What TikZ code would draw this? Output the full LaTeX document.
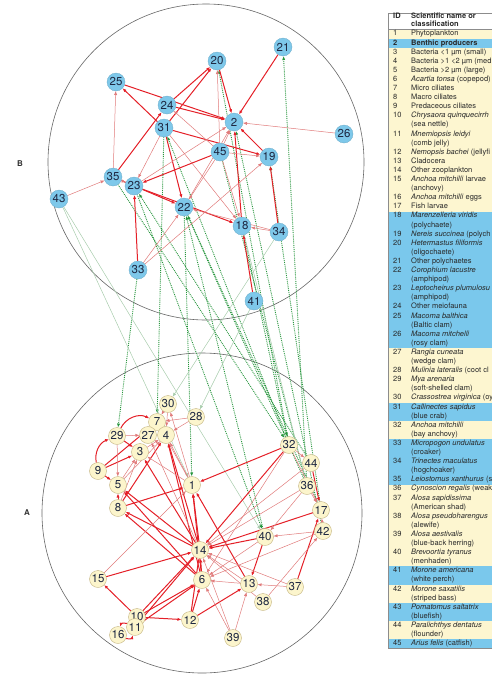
\documentclass[tikz,border=0pt]{standalone}
\usepackage{fontspec}
\setmainfont{TeX Gyre Heros}
\usepackage{xcolor}
\usepackage{tikz}
\usepackage{tkz-graph}
\usetikzlibrary{arrows,arrows.meta,shapes}

\definecolor{nodeblue}{RGB}{126,200,234}
\definecolor{nodecream}{RGB}{252,245,204}
\definecolor{nodeedge}{RGB}{196,180,130}
\definecolor{numink}{RGB}{30,40,66}
\definecolor{webred}{RGB}{228,32,40}
\definecolor{palered}{RGB}{224,122,122}
\definecolor{linkgreen}{RGB}{40,150,62}
\definecolor{palegreen}{RGB}{168,204,172}
\definecolor{rowblue}{RGB}{122,200,236}
\definecolor{rowcream}{RGB}{253,246,208}
\definecolor{tabink}{RGB}{40,40,40}

\pgfdeclarelayer{background}
\pgfsetlayers{background,main}

\begin{document}
\begin{tikzpicture}[x=1pt,y=-1pt,
    bnode/.style={circle,fill=nodeblue,draw=nodeblue!85!black,line width=0.3pt,
      minimum size=18pt,inner sep=0pt,text=numink,font=\fontsize{11.5}{11.5}\selectfont},
    anode/.style={circle,fill=nodecream,draw=nodeedge,line width=0.4pt,
      minimum size=17pt,inner sep=0pt,text=numink,font=\fontsize{11.5}{11.5}\selectfont},
    bigflow/.style={color=webred,line width=1pt},
    smallflow/.style={color=palered,line width=0.5pt},
    linkflow/.style={color=linkgreen,line width=0.9pt,densely dotted},
    faintflow/.style={color=palegreen,line width=0.5pt},
    rim/.style={draw=black!60,line width=0.6pt},
    rowtext/.style={anchor=west,inner sep=0pt,text height=5.5pt,text depth=1.6pt,
      text=tabink,font=\fontsize{7.5}{9.1}\selectfont},
    sidemark/.style={font=\bfseries\fontsize{8}{8}\selectfont,text=black!80}]
\useasboundingbox (0,0) rectangle (492,678);
\clip (0,0) rectangle (492,678);
\tikzset{EdgeStyle/.style={-{Latex[length=4pt,width=3.2pt]}}}

% table of species
\fill[rowcream] (388,29.5) rectangle (500,648.3);
\foreach \a/\b in {1/1,20/34,41/42,45/49,59/60,63/64,67/67}
  \fill[rowblue] (388,29.5+9.1*\a) rectangle (500,38.6+9.1*\b);
\draw[black!45,line width=0.5pt] (388,13) rectangle (500,648.3);
\draw[black!45,line width=0.5pt] (388,29.5) -- (500,29.5);
\node[rowtext,font=\bfseries\fontsize{7.5}{9.1}\selectfont] (idhead) at (393,16.5) {ID};
\node[rowtext,font=\bfseries\fontsize{7.5}{9.1}\selectfont] (namehead) at (411,16.5) {Scientific name or};
\node[rowtext,font=\bfseries\fontsize{7.5}{9.1}\selectfont] (namehead2) at (411,25) {classification};
\foreach \id/\n in {1/0,\textbf{2}/1,3/2,4/3,5/4,6/5,7/6,8/7,9/8,10/9,11/11,12/13,13/14,
    14/15,15/16,16/18,17/19,18/20,19/22,20/23,21/25,22/26,23/28,24/30,25/31,26/33,
    27/35,28/37,29/38,30/40,31/41,32/43,33/45,34/47,35/49,36/50,37/51,38/53,39/55,
    40/57,41/59,42/61,43/63,44/65,45/67}
  \node[rowtext] (id\n) at (393,34+9.1*\n) {\id};
\foreach \txt [count=\n from 0] in {Phytoplankton, \textbf{Benthic producers},
    Bacteria <1 µm (small), Bacteria >1 <2 µm (med, Bacteria >2 µm (large),
    \textit{Acartia tonsa} (copepod), Micro ciliates, Macro ciliates,
    Predaceous ciliates, \textit{Chrysaora quinquecirrh}, (sea nettle),
    \textit{Mnemiopsis leidyi}, (comb jelly), \textit{Nemopsis bachei} (jellyfi,
    Cladocera, Other zooplankton, \textit{Anchoa mitchilli} larvae, (anchovy),
    \textit{Anchoa mitchilli} eggs, Fish larvae, \textit{Marenzelleria viridis},
    (polychaete), \textit{Nereis succinea} (polych, \textit{Hetermastus filiformis},
    (oligochaete), Other polychaetes, \textit{Corophium lacustre}, (amphipod),
    \textit{Leptocheirus plumulosu}, (amphipod), Other meiofauna,
    \textit{Macoma balthica}, (Baltic clam), \textit{Macoma mitchelli}, (rosy clam),
    \textit{Rangia cuneata}, (wedge clam), \textit{Mulinia lateralis} (coot cl,
    \textit{Mya arenaria}, (soft-shelled clam), \textit{Crassostrea virginica} (oy,
    \textit{Callinectes sapidus}, (blue crab), \textit{Anchoa mitchilli}, (bay anchovy),
    \textit{Micropogon undulatus}, (croaker), \textit{Trinectes maculatus}, (hogchoaker),
    \textit{Leiostomus xanthurus} (s, \textit{Cynoscion regalis} (weak,
    \textit{Alosa sapidissima}, (American shad), \textit{Alosa pseudoharengus}, (alewife),
    \textit{Alosa aestivalis}, (blue-back herring), \textit{Brevoortia tyranus}, (menhaden),
    \textit{Morone americana}, (white perch), \textit{Morone saxatilis}, (striped bass),
    \textit{Pomatomus saltatrix}, (bluefish), \textit{Paralichthys dentatus}, (flounder),
    \textit{Arius felis} (catfish)}
  \node[rowtext] (name\n) at (411,34+9.1*\n) {\txt};

% the two webs
\begin{pgfonlayer}{background}
  \draw[rim] (206,162) circle (158pt);
  \draw[rim] (202,513) circle (160pt);
\end{pgfonlayer}
\node[sidemark] (labB) at (20,164) {B};
\node[sidemark] (labA) at (27,513) {A};

% B: benthic web
\tikzset{VertexStyle/.style={bnode}}
\Vertex[x=283,y=47]{21}
\Vertex[x=217,y=61]{20}
\Vertex[x=116,y=82]{25}
\Vertex[x=167,y=105]{24}
\Vertex[x=234,y=122]{2}
\Vertex[x=164,y=128]{31}
\Vertex[x=344,y=134]{26}
\Vertex[x=220,y=152]{45}
\Vertex[x=269,y=157]{19}
\Vertex[x=113,y=177]{35}
\Vertex[x=134,y=186]{23}
\Vertex[x=59,y=199]{43}
\Vertex[x=184,y=207]{22}
\Vertex[x=242,y=226]{18}
\Vertex[x=279,y=232]{34}
\Vertex[x=138,y=270]{33}
\Vertex[x=254,y=301]{41}

% A: pelagic web
\tikzset{VertexStyle/.style={anode}}
\Vertex[x=168,y=404]{30}
\Vertex[x=196,y=417]{28}
\Vertex[x=157,y=422]{7}
\Vertex[x=148,y=435]{27}
\Vertex[x=166,y=435]{4}
\Vertex[x=117,y=436]{29}
\Vertex[x=140,y=452]{3}
\Vertex[x=289,y=445]{32}
\Vertex[x=311,y=463]{44}
\Vertex[x=98,y=471]{9}
\Vertex[x=118,y=485]{5}
\Vertex[x=192,y=485]{1}
\Vertex[x=307,y=486]{36}
\Vertex[x=118,y=508]{8}
\Vertex[x=321,y=510]{17}
\Vertex[x=323,y=531]{42}
\Vertex[x=265,y=537]{40}
\Vertex[x=200,y=550]{14}
\Vertex[x=98,y=579]{15}
\Vertex[x=202,y=580]{6}
\Vertex[x=249,y=584]{13}
\Vertex[x=295,y=587]{37}
\Vertex[x=263,y=602]{38}
\Vertex[x=190,y=620]{12}
\Vertex[x=137,y=617]{10}
\Vertex[x=135,y=627]{11}
\Vertex[x=118,y=635]{16}
\Vertex[x=233,y=638]{39}

\begin{pgfonlayer}{background}
% links between the webs
\Edges[style={linkflow}](31,7)
\Edges[style={linkflow}](33,29)
\Edges[style={linkflow}](35,32)
\Edges[style={linkflow}](22,17)
\Edges[style={linkflow}](23,40)
\Edges[style={linkflow}](32,31)
\Edges[style={linkflow}](40,22)
\Edges[style={linkflow}](36,22)
\Edges[style={linkflow}](44,23)
\Edges[style={linkflow}](32,20)
\Edges[style={linkflow}](36,21)
\Edges[style={linkflow}](17,19)
\Edges[style={linkflow}](42,2)
\Edges[style={linkflow}](45,36)
\Edges[style={linkflow}](18,32)
\Edges[style={linkflow}](22,1)
\Edges[style={faintflow}](43,1)
\Edges[style={faintflow}](43,40)
\Edges[style={faintflow}](34,30)
\Edges[style={faintflow}](41,28)
\Edges[style={faintflow}](18,36)
% B flows
\Edges[style={bigflow}](21,2)
\Edges[style={bigflow}](20,2)
\Edges[style={bigflow}](25,2)
\Edges[style={bigflow}](24,2)
\Edges[style={bigflow}](19,2)
\Edges[style={bigflow}](18,2)
\Edges[style={bigflow}](31,19)
\Edges[style={bigflow}](45,23)
\Edges[style={bigflow}](35,22)
\Edges[style={bigflow}](23,18)
\Edges[style={bigflow}](34,19)
\Edges[style={bigflow}](41,18)
\Edges[style={bigflow}](33,23)
\Edges[style={bigflow}](31,25)
\Edges[style={bigflow}](31,22)
\Edges[style={bigflow}](35,24)
\Edges[style={bigflow}](24,20)
\Edges[style={bigflow}](31,20)
\Edges[style={smallflow}](45,20)
\Edges[style={smallflow}](35,25)
\Edges[style={smallflow}](31,23)
\Edges[style={smallflow}](31,18)
\Edges[style={smallflow}](45,24)
\Edges[style={smallflow}](45,22)
\Edges[style={smallflow}](45,18)
\Edges[style={smallflow}](45,19)
\Edges[style={smallflow}](22,2)
\Edges[style={smallflow}](23,2)
\Edges[style={smallflow}](26,2)
\Edges[style={smallflow}](35,23)
\Edges[style={smallflow}](34,22)
\Edges[style={smallflow}](34,18)
\Edges[style={smallflow}](33,22)
\Edges[style={smallflow}](43,35)
\Edges[style={smallflow}](33,19)
\Edges[style={smallflow}](45,2)
% A flows
\Edges[style={bigflow}](14,1)
\Edges[style={bigflow}](6,14)
\Edges[style={bigflow}](6,1)
\Edges[style={bigflow}](13,1)
\Edges[style={bigflow}](12,6)
\Edges[style={bigflow}](10,6)
\Edges[style={bigflow}](11,6)
\Edges[style={bigflow}](10,14)
\Edges[style={bigflow}](11,14)
\Edges[style={bigflow}](12,14)
\Edges[style={bigflow}](15,14)
\Edges[style={bigflow}](10,12)
\Edges[style={bigflow}](12,13)
\Edges[style={bigflow}](10,15)
\Edges[style={bigflow}](17,14)
\Edges[style={bigflow}](40,14)
\Edges[style={bigflow}](32,14)
\Edges[style={bigflow}](32,1)
\Edges[style={bigflow}](8,1)
\Edges[style={bigflow}](8,4)
\Edges[style={bigflow}](8,5)
\Edges[style={bigflow}](9,5)
\Edges[style={bigflow}](9,3)
\Edges[style={bigflow}](9,7)
\Edges[style={bigflow}](14,8)
\Edges[style={bigflow}](14,5)
\Edges[style={bigflow}](14,3)
\Edges[style={bigflow}](14,4)
\Edges[style={bigflow}](6,5)
\Edges[style={bigflow}](6,8)
\Edges[style={bigflow}](6,4)
\Edges[style={bigflow}](29,3)
\Edges[style={bigflow}](37,17)
\Edges[style={bigflow}](44,17)
\Edges[style={bigflow}](40,13)
\Edges[style={bigflow,bend left=45}](29,7)
\Edges[style={bigflow,bend left=40}](9,29)
\Edges[style={bigflow,bend right=50}](11,16)
\Edges[style={bigflow,bend right=50}](16,11)
\Edges[style={smallflow}](1,7)
\Edges[style={smallflow}](1,30)
\Edges[style={smallflow}](28,7)
\Edges[style={smallflow}](28,4)
\Edges[style={smallflow}](30,4)
\Edges[style={smallflow}](30,7)
\Edges[style={smallflow}](29,27)
\Edges[style={smallflow}](29,5)
\Edges[style={smallflow}](5,3)
\Edges[style={smallflow}](5,4)
\Edges[style={smallflow}](3,4)
\Edges[style={smallflow}](8,3)
\Edges[style={smallflow}](15,1)
\Edges[style={smallflow}](39,14)
\Edges[style={smallflow}](39,6)
\Edges[style={smallflow}](39,13)
\Edges[style={smallflow}](37,14)
\Edges[style={smallflow}](37,13)
\Edges[style={smallflow}](38,14)
\Edges[style={smallflow}](42,40)
\Edges[style={smallflow}](42,17)
\Edges[style={smallflow}](42,6)
\Edges[style={smallflow}](13,6)
\Edges[style={smallflow}](13,14)
\Edges[style={smallflow}](36,14)
\Edges[style={smallflow}](44,14)
\Edges[style={smallflow}](36,17)
\Edges[style={smallflow}](32,44)
\Edges[style={smallflow}](32,17)
\Edges[style={smallflow}](38,42)
\Edges[style={smallflow}](1,4)
\Edges[style={smallflow}](14,27)
\Edges[style={smallflow}](1,3)
\Edges[style={smallflow}](40,6)
\Edges[style={smallflow}](36,40)
\Edges[style={smallflow}](32,6)
\end{pgfonlayer}
\end{tikzpicture}
\end{document}
